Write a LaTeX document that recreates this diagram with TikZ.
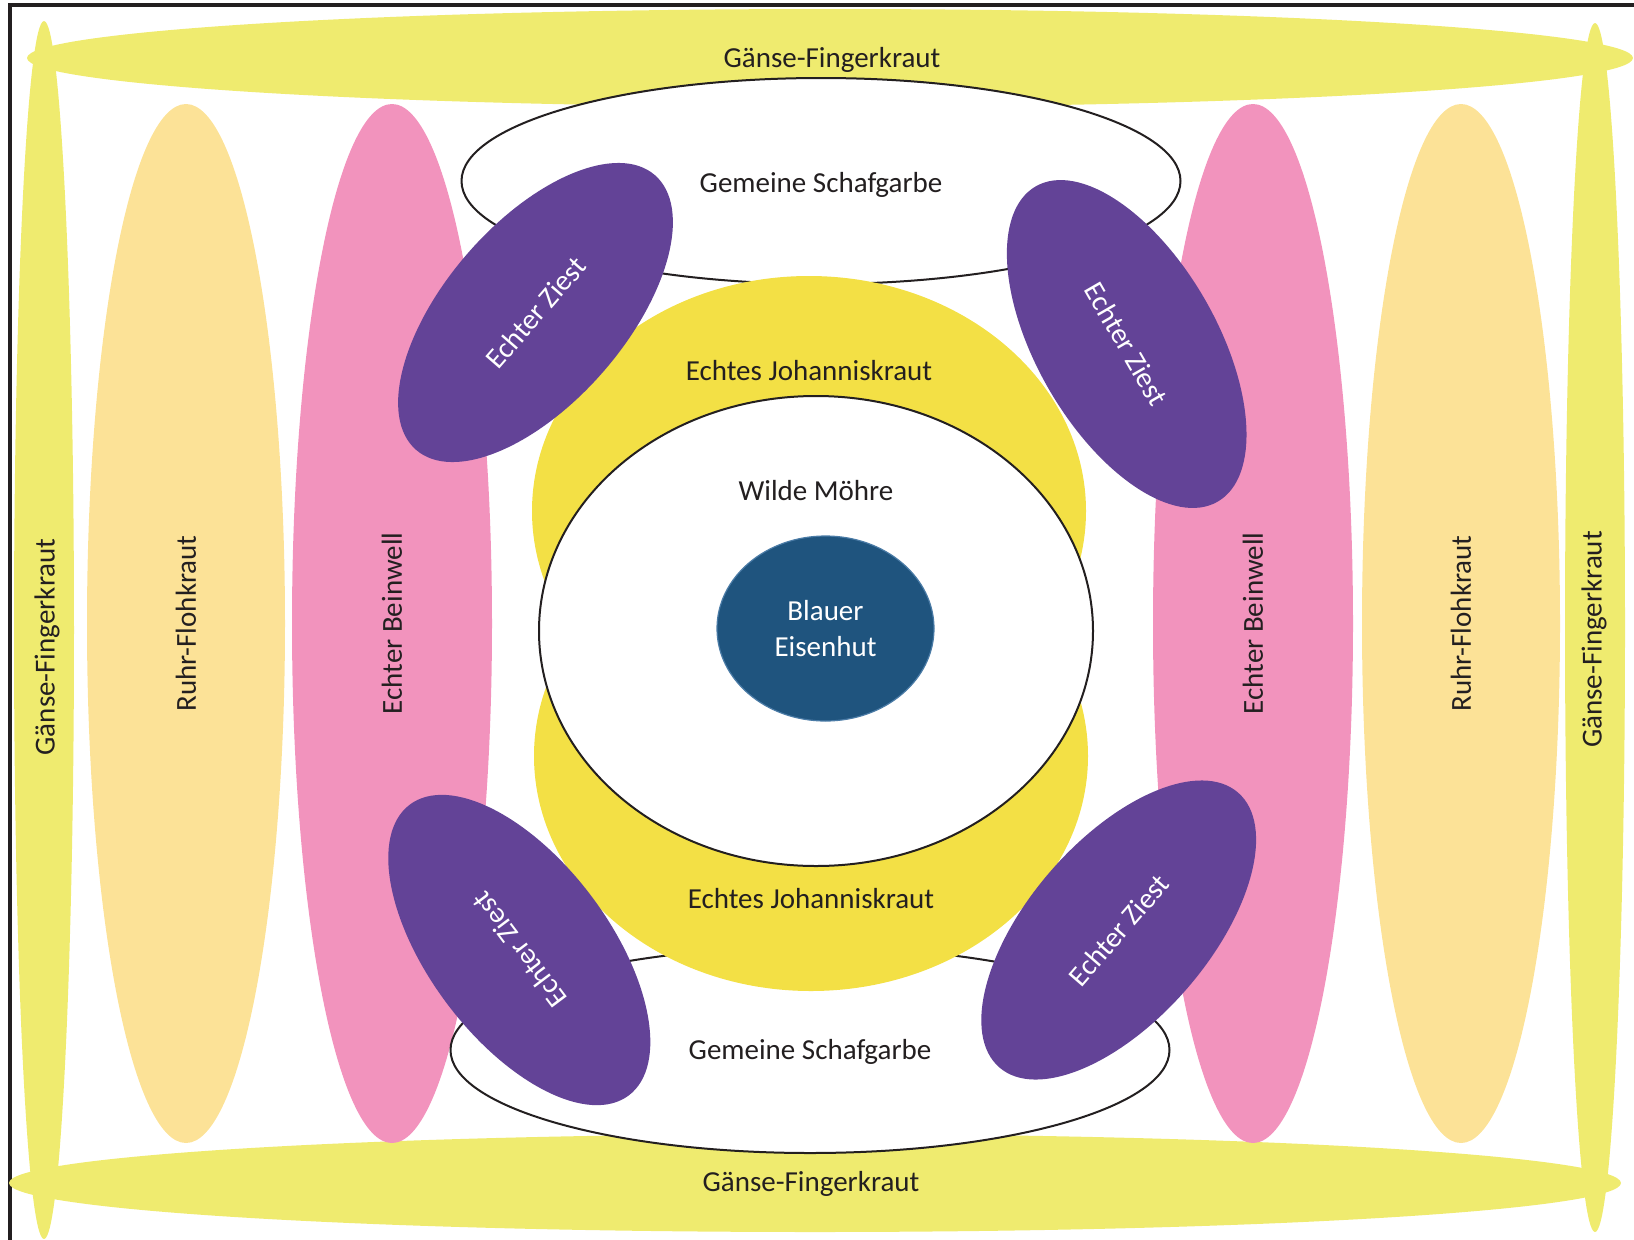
\documentclass[tikz,border=0pt]{standalone}
\usepackage{fontspec}
\setmainfont{Carlito}
\usetikzlibrary{shapes.geometric}

\definecolor{goose}{HTML}{EFEB6F}
\definecolor{flea}{HTML}{FCE297}
\definecolor{comfrey}{HTML}{F293BD}
\definecolor{stjohn}{HTML}{F3E045}
\definecolor{betony}{HTML}{634397}
\definecolor{aconite}{HTML}{1F547E}
\definecolor{aconiteedge}{HTML}{4A7BA6}
\definecolor{ink}{HTML}{231F20}

\begin{document}
\begin{tikzpicture}[x=1pt,y=-1pt,
  blob/.style={ellipse, inner sep=0pt, outer sep=0pt, draw=none,
               font=\fontsize{29}{35.5}\selectfont, text=ink},
  lbl/.style={inner sep=0pt, font=\fontsize{29}{35.5}\selectfont, text=ink},
  outlined/.style={blob, fill=white, draw=ink, line width=2pt},
  betonyblob/.style={blob, fill=betony, text=white,
                     minimum width=364pt, minimum height=180pt},
]
\useasboundingbox (0,0) rectangle (1634,1240);

% frame edges
\draw[ink, line width=4pt] (10,1240) -- (10,5.3) -- (1634,5.3);

% outer ring: Gänse-Fingerkraut
\node[blob, fill=goose, minimum width=60pt, minimum height=1218pt] (gleft) at (44,630) {};
\node[blob, fill=goose, minimum width=60pt, minimum height=1209pt] (gright) at (1595,627.5) {};
\node[blob, fill=goose, minimum width=1606pt, minimum height=98pt] (gtop) at (830,58) {};
\node[blob, fill=goose, minimum width=1612pt, minimum height=98pt] (gbottom) at (815,1183) {};

% Ruhr-Flohkraut
\node[blob, fill=flea, rotate=90, minimum width=1039pt, minimum height=198pt] (rleft) at (186,623.5) {Ruhr-Flohkraut};
\node[blob, fill=flea, rotate=90, minimum width=1039pt, minimum height=198pt] (rright) at (1461,623.5) {Ruhr-Flohkraut};

% Echter Beinwell
\node[blob, fill=comfrey, rotate=90, minimum width=1039pt, minimum height=200pt] (bleft) at (392,623.5) {Echter Beinwell};
\node[blob, fill=comfrey, rotate=90, minimum width=1039pt, minimum height=200pt] (bright) at (1253,623.5) {Echter Beinwell};

% Gemeine Schafgarbe
\node[outlined, minimum width=719pt, minimum height=206pt] (stop) at (821,181) {};
\node[outlined, minimum width=719pt, minimum height=206pt] (sbottom) at (810,1050) {};

% Echtes Johanniskraut
\node[blob, fill=stjohn, minimum width=554pt, minimum height=470pt] (jtop) at (809,511) {};
\node[blob, fill=stjohn, minimum width=554pt, minimum height=470pt] (jbottom) at (811,756) {};

% Wilde Möhre
\node[outlined, minimum width=554pt, minimum height=470pt] (moehre) at (816,631) {};

% Blauer Eisenhut
\node[blob, fill=aconite, draw=aconiteedge, line width=1.2pt, text=white,
      align=center, minimum width=217pt, minimum height=185pt] (eisenhut) at (825.5,628.5)
      {Blauer\\Eisenhut};

% Echter Ziest
\node[betonyblob, rotate=49] (ztl) at (535.5,312.5) {Echter Ziest};
\node[betonyblob, rotate=-60] (ztr) at (1126.7,344) {Echter Ziest};
\node[betonyblob, rotate=127] (zbl) at (519.3,950) {Echter Ziest};
\node[betonyblob, rotate=49] (zbr) at (1118.7,930) {Echter Ziest};

% labels placed relative to their shapes
\node[lbl] (tgtop) at ([xshift=2pt, yshift=-2pt]gtop.center) {Gänse-Fingerkraut};
\node[lbl] (tgbottom) at ([xshift=-4pt, yshift=-1pt]gbottom.center) {Gänse-Fingerkraut};
\node[lbl, rotate=90] (tgleft) at ([xshift=3pt, yshift=-17pt]gleft.center) {Gänse-Fingerkraut};
\node[lbl, rotate=90] (tgright) at ([xshift=-1pt, yshift=-12pt]gright.center) {Gänse-Fingerkraut};
\node[lbl] (tstop) at ([yshift=-4pt]stop.center) {Gemeine Schafgarbe};
\node[lbl] (tsbottom) at ([yshift=-2pt]sbottom.center) {Gemeine Schafgarbe};
\node[lbl] (tjtop) at ([yshift=140pt]jtop.center) {Echtes Johanniskraut};
\node[lbl] (tjbottom) at ([yshift=-143pt]jbottom.center) {Echtes Johanniskraut};
\node[lbl] (tmoehre) at ([yshift=140pt]moehre.center) {Wilde Möhre};
\end{tikzpicture}
\end{document}
